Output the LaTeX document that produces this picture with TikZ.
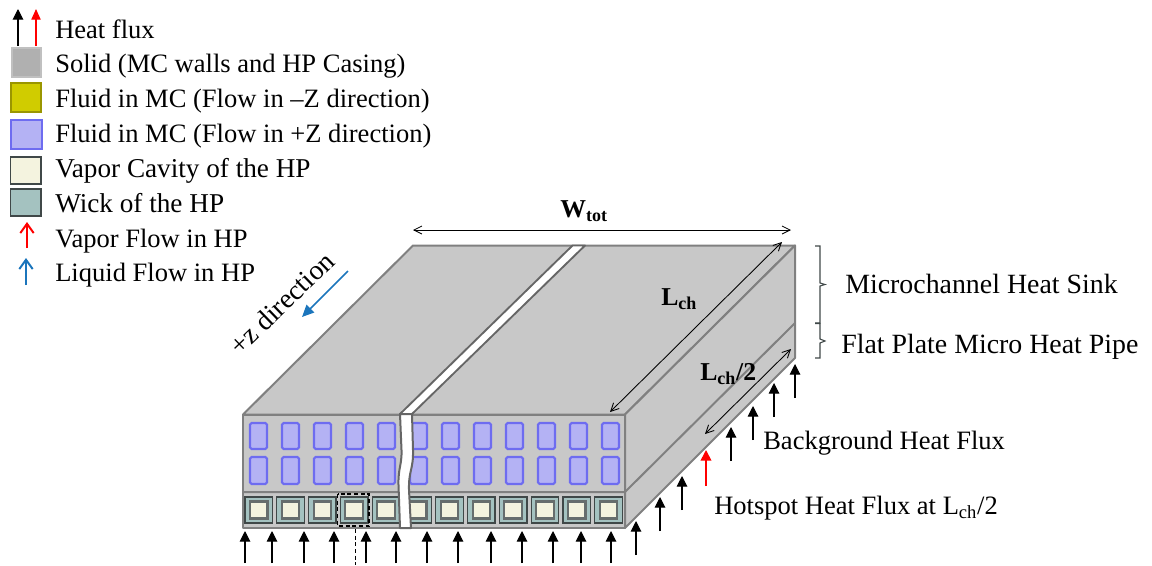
\documentclass[tikz,border=0pt]{standalone}
\usepackage{fontspec}
\setmainfont{Liberation Serif}
\usetikzlibrary{arrows.meta}
\definecolor{solidc}{HTML}{C8C8C8}
\definecolor{edgec}{HTML}{808080}
\definecolor{legsolid}{HTML}{B0B0B0}
\definecolor{legsolide}{HTML}{C0C0C0}
\definecolor{yel}{HTML}{D0CC00}
\definecolor{yele}{HTML}{9A9600}
\definecolor{vio}{HTML}{B4B2F4}
\definecolor{vioe}{HTML}{6E6CF0}
\definecolor{cream}{HTML}{F4F3DF}
\definecolor{wick}{HTML}{A4C2C0}
\definecolor{darke}{HTML}{404848}
\definecolor{blu}{HTML}{1B75BC}
\tikzset{
  x=0.75pt,y=-0.75pt,
  lab/.style={anchor=base west,inner sep=0pt,font=\fontsize{19.9pt}{22pt}\selectfont},
  labv/.style={anchor=base west,inner sep=0pt,font=\fontsize{20.4pt}{22pt}\selectfont},
  labw/.style={anchor=base west,inner sep=0pt,font=\fontsize{20.9pt}{22pt}\selectfont},
  blab/.style={anchor=base west,inner sep=0pt,font=\bfseries\fontsize{19.3pt}{22pt}\selectfont},
  body/.style={draw=edgec,fill=solidc,line width=1.5pt,line join=round},
  chan/.style={draw=vioe,fill=vio,line width=1.6pt,rounded corners=1.2pt},
  wickbox/.style={draw=darke,fill=wick,line width=1pt},
  vapbox/.style={draw=darke!80,fill=cream,line width=1.6pt},
  heat/.style={draw=black,line width=0.8pt,-{Triangle[length=8pt,width=8pt]}},
  hotheat/.style={draw=red,line width=1.3pt,-{Triangle[length=8pt,width=8pt]}},
  dim/.style={draw=black,line width=0.65pt,{Straight Barb[length=6pt,width=6pt]}-{Straight Barb[length=6pt,width=6pt]}},
  flowarrow/.style={line width=1.5pt,-{Straight Barb[length=7pt,width=10pt]}},
  brace/.style={draw=darke,line width=0.8pt}
}
\begin{document}
\begin{tikzpicture}
\useasboundingbox (0,0) rectangle (1152,565);
% ---- legend
\coordinate (la1) at (18,46); \coordinate (lb1) at (18,9);
\coordinate (la2) at (36,46); \coordinate (lb2) at (36,9);
\draw[heat] (la1) -- (lb1);
\draw[draw=red,line width=0.8pt,-{Triangle[length=8pt,width=7pt]},fill=red] (la2) -- (lb2);
\draw[draw=legsolide,fill=legsolid,line width=1.5pt] (11.5,48) rectangle (41,77);
\draw[draw=yele,fill=yel,line width=1.5pt] (10.5,82.5) rectangle (41,112);
\draw[draw=vioe,fill=vio,line width=1.5pt] (10.5,120) rectangle (42,149);
\draw[draw=darke,fill=cream,line width=1pt] (10.5,157) rectangle (41,184);
\draw[draw=darke,fill=wick,line width=1pt] (10.5,189) rectangle (41,216);
\coordinate (lc1) at (27,248); \coordinate (ld1) at (27,222);
\coordinate (lc2) at (26,285); \coordinate (ld2) at (26,258);
\draw[flowarrow,draw=red] (lc1) -- (ld1);
\draw[flowarrow,draw=blu] (lc2) -- (ld2);
\node[lab] (t1) at (55,38) {Heat flux};
\node[lab] (t2) at (55,72) {Solid (MC walls and HP Casing)};
\node[lab] (t3) at (55,107) {Fluid in MC (Flow in –Z direction)};
\node[lab] (t4) at (55,142.5) {Fluid in MC (Flow in +Z direction)};
\node[labv] (t5) at (55,177.5) {Vapor Cavity of the HP};
\node[labv] (t6) at (55,212) {Wick of the HP};
\node[lab] (t7) at (55,247) {Vapor Flow in HP};
\node[lab] (t8) at (55,281.5) {Liquid Flow in HP};
% ---- body
\draw[body] (243,414.5) -- (413,245.5) -- (795,245.5) -- (625,414.5) -- cycle;
\draw[body] (625,414.5) -- (795,245.5) -- (795,358) -- (625,528) -- cycle;
\draw[body] (243,414.5) rectangle (625,528);
\draw[edgec,line width=1.5pt] (243,492) -- (625,492) -- (795,323);
% channels
\foreach \k in {0,...,11}{
  \draw[chan] ({250+32*\k},423) rectangle ++(17,26);
  \draw[chan] ({250+32*\k},457) rectangle ++(17,27);
}
% heat pipe cells
\foreach \k in {0,...,11}{
  \pgfmathsetmacro{\xa}{245+31.8*\k}
  \draw[wickbox] (\xa,497) rectangle ++(27.5,26);
  \draw[vapbox] (\xa+5,501.5) rectangle ++(17.5,17);
}
% white strip
\draw[draw=edgec!80!black,fill=white,line width=1.4pt,line join=round] (400,414) -- (572.5,245.5) -- (585,245.5) -- (412,414) -- cycle;
\draw[draw=edgec!80!black,fill=white,line width=1.5pt,line join=round]
  (400,414) -- (401.5,450) .. controls (402,465) and (398,468) .. (398.5,485) -- (400,528)
  -- (411,528) -- (409,490) .. controls (408.5,470) and (413.5,470) .. (413,450) -- (412,414) -- cycle;
% dashed selection
\draw[black,densely dashed,line width=0.9pt] (337.5,494) rectangle (369,526);
\coordinate (ds) at (355.5,529); \coordinate (de) at (355.5,565);
\draw[black,densely dashed,line width=0.8pt] (ds) -- (de);
% bottom arrows
\foreach \x in {245,272,304,334,366,396,427,458,491,522,553,581,611}{
  \coordinate (a\x) at (\x,563); \coordinate (b\x) at (\x,531);
  \draw[heat] (a\x) -- (b\x);
}
% side arrows
\foreach \n/\x/\ya/\yb in {s1/636/555/521,s2/660/531/497,s3/682/510/476,s5/731/461/427,s6/753/440/406,s7/774/417/383,s8/795/398/364}{
  \coordinate (\n a) at (\x,\ya); \coordinate (\n b) at (\x,\yb);
  \draw[heat] (\n a) -- (\n b);
}
\coordinate (hota) at (706,486); \coordinate (hotb) at (706,450);
\draw[hotheat] (hota) -- (hotb);
% dimensions
\coordinate (w1) at (413,230); \coordinate (w2) at (791,230);
\draw[dim] (w1) -- (w2);
\coordinate (l1) at (610,412); \coordinate (l2) at (782,242);
\draw[dim] (l1) -- (l2);
\coordinate (h1) at (705,434); \coordinate (h2) at (791,349);
\draw[dim] (h1) -- (h2);
% +z arrow
\coordinate (z1) at (348,271); \coordinate (z2) at (302,317);
\draw[draw=blu,line width=1.3pt,-{Triangle[length=9pt,width=8pt]}] (z1) -- (z2);
% braces
\draw[brace] (815,246) -- (820,246) -- (820,283) -- (825,284.5) -- (820,286) -- (820,323) -- (815,323);
\draw[brace] (815,323.5) -- (820,323.5) -- (820,339) -- (825,341) -- (820,343) -- (820,358) -- (815,358);
% labels
\node[anchor=base,inner sep=0pt,rotate=44,font=\fontsize{20.8pt}{22pt}\selectfont] (zl) at (288,310) {+z direction};
\node[blab] (wl) at (560,217) {W\textsubscript{tot}};
\node[blab] (ll) at (661,305) {L\textsubscript{ch}};
\node[blab] (hl) at (700,380) {L\textsubscript{ch}/2};
\node[labw] (m1) at (845,293) {Microchannel Heat Sink};
\node[labw] (m2) at (841,353) {Flat Plate Micro Heat Pipe};
\node[lab] (m3) at (763,449) {Background Heat Flux};
\node[lab] (m4) at (714,514) {Hotspot Heat Flux at L\textsubscript{ch}/2};
\end{tikzpicture}
\end{document}
